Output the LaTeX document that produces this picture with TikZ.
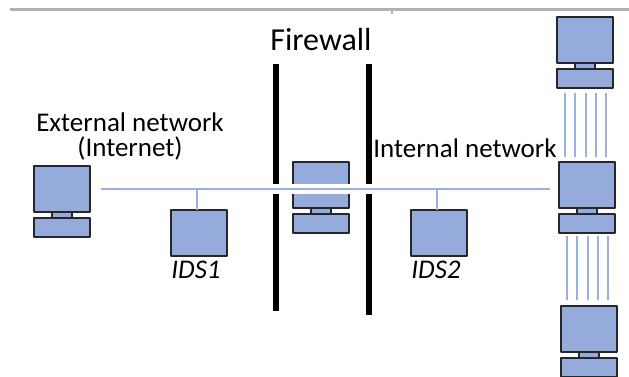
\documentclass[tikz,border=0pt]{standalone}
\usepackage{fontspec}
\setmainfont{Carlito}
\usetikzlibrary{positioning}
\usetikzlibrary{calc}
\tikzset{
	hw/.style={draw=black!85,line width=2pt,fill=netblue,inner sep=0pt,outer sep=0pt},
	monitor/.style={hw,minimum width=56pt,minimum height=46pt},
	neck/.style={hw,minimum width=20pt,minimum height=6pt},
	kbd/.style={hw,minimum width=56pt,minimum height=19pt},
	wire/.style={color=wireblue,line width=2pt},
	wall/.style={color=black,line width=6pt},
	lbl/.style={inner sep=0pt,font=\fontsize{27}{25}\selectfont,align=center},
	idslbl/.style={inner sep=0pt,font=\fontsize{27}{27}\selectfont\itshape}
}
\definecolor{netblue}{HTML}{94ABDC}
\definecolor{wireblue}{HTML}{9AB0E0}
% monitor on a neck, keyboard under it
\newcommand{\pcat}[3]{
	\node[monitor] (#1) at (#2,#3) {};
	\node[kbd,below=6pt of #1] (#1kbd) {};
	\node[neck,below=0pt of #1] (#1neck) {};
}
\begin{document}
\begin{tikzpicture}[line cap=butt,line join=round,x=1pt,y=-1pt]
		\useasboundingbox (0,0) rectangle (629,377);
		\draw[color=black!30,line width=3pt] (10,10) -- (629,10);
		\draw[color=black!30,line width=1.5pt] (392,10) -- (392,14);
		% the two walls
		\draw[wall] (276,64) -- (276,311);
		\draw[wall] (369,64) -- (369,315);
		% hosts
		\pcat{ext}{61.5}{189}
		\pcat{fw}{320.5}{185}
		\pcat{top}{585}{40}
		\pcat{mid}{587}{185}
		\pcat{low}{589}{328.5}
		\node[monitor] (ids1) at (198.5,233) {};
		\node[monitor] (ids2) at (438.5,233) {};
		% wires, the bus cuts a white band through walls and firewall
		\coordinate (busl) at (101,189);
		\coordinate (busr) at (550,189);
		\draw[color=white,line width=10pt] (busl) -- (busr);
		\draw[wire] (busl) -- (busr);
		\draw[wire] (ids1.north -| 197,0) -- (197,189);
		\draw[wire] (ids2.north -| 437,0) -- (437,189);
		\foreach \dx in {-20,-9.75,0.5,10.75,21}{
			\draw[wire] ($(topkbd.south)+(\dx,5)$) -- ($(topkbd.south)+(\dx,69)$);
			\draw[wire] ($(midkbd.south)+(\dx,3)$) -- ($(midkbd.south)+(\dx,67)$);
		}
		% labels
		\node[lbl,font=\fontsize{32}{32}\selectfont] (fwlbl) at (321,40) {Firewall};
		\node[lbl] (extlbl) at (130,136) {External network\\(Internet)};
		\node[lbl] (intlbl) at (465,148) {Internal network};
		\node[idslbl] (ids1lbl) at (196,270) {IDS1};
		\node[idslbl] (ids2lbl) at (436,270) {IDS2};
		\end{tikzpicture}
\end{document}
